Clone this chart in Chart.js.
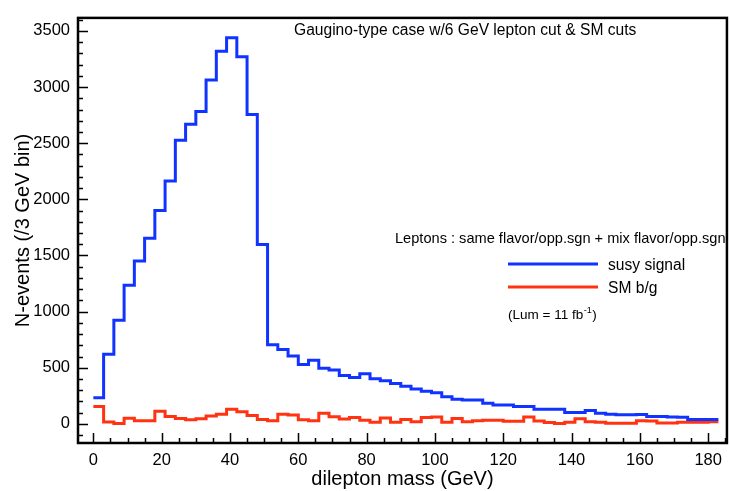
<!DOCTYPE html>
<html><head><meta charset="utf-8">
<script src="https://cdn.jsdelivr.net/npm/chart.js@4.4.0/dist/chart.umd.min.js"></script>
<style>html,body{margin:0;padding:0;background:#fff;} #wrap{width:730px;height:491px;}</style>
</head><body><div id="wrap"><canvas id="c" width="730" height="491"></canvas></div>
<script>
// dilepton mass bins (left edges, GeV), 3 GeV wide
const binStarts = [0,3,6,9,12,15,18,21,24,27,30,33,36,39,42,45,48,51,54,57,60,63,66,69,72,75,78,81,84,87,90,93,96,99,102,105,108,111,114,117,120,123,126,129,132,135,138,141,144,147,150,153,156,159,162,165,168,171,174,177,180];
const lastEdge = 183;
const susySignal = [233,621,924,1234,1452,1654,1901,2164,2526,2668,2782,3062,3319,3439,3269,2756,1598,705,662,604,530,568,495,481,431,414,446,402,385,359,335,312,291,277,242,219,213,213,184,169,169,154,154,131,131,131,102,102,119,96,87,81,81,84,67,67,62,60,40,40,40];
const smBackground = [154,18,3,50,29,29,112,66,49,38,47,70,87,131,108,74,40,29,87,79,38,29,96,64,44,58,32,14,52,14,40,20,58,62,14,49,20,29,33,33,23,23,62,25,12,4,15,45,20,14,5,5,5,29,25,8,8,14,14,14,20];
const xTickValues = [0,20,40,60,80,100,120,140,160,180];
const yTickValues = [0,500,1000,1500,2000,2500,3000,3500];
const seriesLabels = ['susy signal','SM b/g'];
const seriesColors = ['#1133ff','#ff3311'];

const FONT = "'Liberation Sans', Arial, Helvetica, sans-serif";

function histPoints(vals){
  const pts = binStarts.map((x,i)=>({x:x, y:vals[i]}));
  pts.push({x:lastEdge, y:vals[vals.length-1]});
  return pts;
}

const framePlugin = {
  id:'frame',
  afterDatasetsDraw(chart){
    const {ctx, chartArea:a, scales:{x, y}} = chart;
    ctx.save();
    ctx.strokeStyle = '#000';
    ctx.lineWidth = 1.5;
    ctx.beginPath();
    for (let v = -100; v <= 3600; v += 100){
      const py = Math.round(y.getPixelForValue(v)) + 0.5;
      if (py < a.top || py > a.bottom) continue;
      const len = (v % 500 === 0) ? 10 : 5;
      ctx.moveTo(a.left, py); ctx.lineTo(a.left + len, py);
    }
    for (let v = 0; v <= 185; v += 5){
      const px = Math.round(x.getPixelForValue(v)) + 0.5;
      if (px < a.left || px > a.right) continue;
      const len = (v % 20 === 0) ? 10 : 5;
      ctx.moveTo(px, a.bottom); ctx.lineTo(px, a.bottom - len);
    }
    ctx.stroke();
    ctx.lineWidth = 2.5;
    ctx.strokeRect(a.left, a.top, a.right - a.left, a.bottom - a.top);
    ctx.restore();
  }
};

const textPlugin = {
  id:'annot',
  afterDraw(chart){
    const ctx = chart.ctx;
    ctx.save();
    ctx.fillStyle = '#000';
    ctx.textBaseline = 'alphabetic';
    ctx.textAlign = 'left';
    ctx.font = '15.6px ' + FONT;
    ctx.fillText('Gaugino-type case w/6 GeV lepton cut & SM cuts', 294, 35);
    ctx.font = '14.6px ' + FONT;
    ctx.fillText('Leptons : same flavor/opp.sgn + mix flavor/opp.sgn', 395, 243);
    const ds = chart.data.datasets;
    const rows = [264, 287];
    ds.forEach((d,i)=>{
      ctx.strokeStyle = d.borderColor;
      ctx.lineWidth = 3;
      ctx.beginPath();
      ctx.moveTo(508, rows[i]); ctx.lineTo(598, rows[i]);
      ctx.stroke();
      ctx.font = '15.6px ' + FONT;
      ctx.fillText(d.label, 608, rows[i] + 6);
    });
    ctx.font = '13.5px ' + FONT;
    const t1 = '(Lum = 11 fb';
    ctx.fillText(t1, 508, 319);
    let w = ctx.measureText(t1).width;
    ctx.font = '9px ' + FONT;
    ctx.fillText('-1', 508 + w + 0.5, 313);
    const w2 = ctx.measureText('-1').width;
    ctx.font = '13.5px ' + FONT;
    ctx.fillText(')', 508 + w + w2 + 1, 319);
    ctx.restore();
  }
};

new Chart(document.getElementById('c'), {
  type:'line',
  data:{
    datasets:[
      {label:seriesLabels[0], data:histPoints(susySignal), borderColor:seriesColors[0], borderWidth:3, stepped:'before', pointRadius:0, fill:false},
      {label:seriesLabels[1], data:histPoints(smBackground), borderColor:seriesColors[1], borderWidth:3, stepped:'before', pointRadius:0, fill:false}
    ]
  },
  options:{
    responsive:false, animation:false, devicePixelRatio:1,
    layout:{padding:{left:0, top:10, right:3, bottom:0}},
    plugins:{legend:{display:false}, tooltip:{enabled:false}},
    scales:{
      x:{
        type:'linear', min:-4.5, max:185.5,
        grid:{display:false, drawTicks:false}, border:{display:false},
        afterBuildTicks:(s)=>{ s.ticks = xTickValues.map(v=>({value:v})); },
        afterFit:(s)=>{ s.height = 48; },
        ticks:{padding:8, color:'#000', maxRotation:0, autoSkip:false, font:{family:FONT, size:16.5}, callback:(v)=>String(v)},
        title:{display:true, text:'dilepton mass (GeV)', color:'#000', padding:0, font:{family:FONT, size:20, lineHeight:1.2}}
      },
      y:{
        type:'linear', min:-170, max:3616,
        grid:{display:false, drawTicks:false}, border:{display:false},
        afterBuildTicks:(s)=>{ s.ticks = yTickValues.map(v=>({value:v})); },
        afterFit:(s)=>{ s.width = 78; },
        ticks:{padding:8, color:'#000', autoSkip:false, font:{family:FONT, size:16.5}, callback:(v)=>String(v)},
        title:{display:true, text:'N-events (/3 GeV bin)', color:'#000', padding:{top:11, bottom:0}, font:{family:FONT, size:20, lineHeight:1.2}}
      }
    }
  },
  plugins:[framePlugin, textPlugin]
});
</script>
</body></html>
